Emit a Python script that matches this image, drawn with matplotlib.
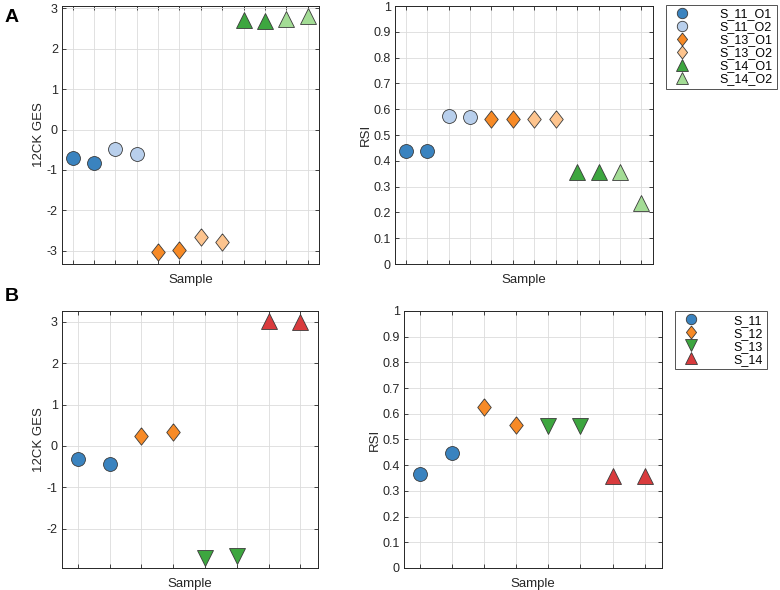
import matplotlib
matplotlib.use("Agg")
import matplotlib.pyplot as plt
from matplotlib.ticker import FuncFormatter, MultipleLocator

plt.rcParams['font.family'] = ['Liberation Sans', 'DejaVu Sans']
plt.rcParams['axes.unicode_minus'] = False

# panel A: organoid samples (two replicates each)
labels_a = ["S_11_O1", "S_11_O2", "S_13_O1", "S_13_O2", "S_14_O1", "S_14_O2"]
ges_a = [[-0.71, -0.82], [-0.47, -0.61], [-3.04, -2.98],
         [-2.67, -2.79], [2.72, 2.69], [2.75, 2.81]]
rsi_a = [[0.437, 0.437], [0.572, 0.570], [0.562, 0.562],
         [0.562, 0.562], [0.356, 0.356], [0.356, 0.237]]

# panel B: patient samples
labels_b = ["S_11", "S_12", "S_13", "S_14"]
ges_b = [[-0.32, -0.43], [0.24, 0.33], [-2.72, -2.65], [3.03, 3.00]]
rsi_b = [[0.366, 0.448], [0.625, 0.556], [0.553, 0.553], [0.356, 0.356]]

# MATLAB-like diamond (taller than wide)
diamond = [(0, 1), (0.78, 0), (0, -1), (-0.78, 0), (0, 1)]

colors_a = ["#3a83bf", "#b8cfec", "#f78a26", "#fdc48e", "#3da63f", "#a3dc95"]
markers_a = ["o", "o", diamond, diamond, "^", "^"]
colors_b = ["#3a83bf", "#f78a26", "#3da63f", "#d93b3d"]
markers_b = ["o", diamond, "v", "^"]

msize = {"o": 10, "^": 11, "v": 11}
TXT = "#262626"

fig = plt.figure(figsize=(7.8, 5.9), dpi=100)


def style_axes(ax, n, ylim, ystep):
    ax.set_xlim(0.5, n + 0.55)
    ax.set_ylim(*ylim)
    ax.set_xticks(range(1, n + 1))
    ax.set_xticklabels([])
    ax.yaxis.set_major_locator(MultipleLocator(ystep))
    ax.yaxis.set_major_formatter(FuncFormatter(lambda v, p: "%g" % round(v, 2)))
    ax.tick_params(direction="in", top=True, right=True, length=3,
                   width=0.6, labelsize=9, colors=TXT, pad=3)
    ax.grid(True, color="#dcdcdc", linewidth=0.6)
    ax.set_axisbelow(True)
    for s in ax.spines.values():
        s.set_color(TXT)
        s.set_linewidth(0.7)
    ax.set_xlabel("Sample", fontsize=9.5, color=TXT, labelpad=4)


def draw(ax, groups, colors, markers, names):
    x = 1
    handles = []
    for vals, c, m, nm in zip(groups, colors, markers, names):
        xs = list(range(x, x + len(vals)))
        ms = msize.get(m, 12.5) if isinstance(m, str) else 12.5
        h, = ax.plot(xs, vals, linestyle="none", marker=m, markersize=ms,
                     markerfacecolor=c, markeredgecolor="#3a3a3a",
                     markeredgewidth=0.6, label=nm, clip_on=False, zorder=3)
        handles.append(h)
        x += len(vals)
    return handles


def add_legend(handles, anchor, textpad):
    leg = fig.legend(handles=handles, loc="upper left", bbox_to_anchor=anchor,
                     fontsize=9, frameon=True, fancybox=False, borderpad=0.3,
                     handletextpad=textpad, labelspacing=0.08,
                     handlelength=2.0, markerscale=0.75, borderaxespad=0)
    leg.get_frame().set_edgecolor(TXT)
    leg.get_frame().set_linewidth(0.7)
    return leg


# A left
ax1 = fig.add_axes([0.0795, 0.5525, 0.330, 0.4373])
draw(ax1, ges_a, colors_a, markers_a, labels_a)
style_axes(ax1, 12, (-3.33, 3.06), 1)
ax1.set_ylabel("12CK GES", fontsize=9.5, color=TXT, labelpad=1)

# A right
ax2 = fig.add_axes([0.5064, 0.5525, 0.331, 0.4373])
h_a = draw(ax2, rsi_a, colors_a, markers_a, labels_a)
style_axes(ax2, 12, (0, 1), 0.1)
ax2.set_ylabel("RSI", fontsize=9.5, color=TXT, labelpad=1)

add_legend(h_a, (0.854, 0.992), 2.0)

# B left
ax3 = fig.add_axes([0.0795, 0.0373, 0.328, 0.4356])
draw(ax3, ges_b, colors_b, markers_b, labels_b)
style_axes(ax3, 8, (-2.95, 3.26), 1)
ax3.set_ylabel("12CK GES", fontsize=9.5, color=TXT, labelpad=1)

# B right
ax4 = fig.add_axes([0.518, 0.0373, 0.331, 0.4356])
h_b = draw(ax4, rsi_b, colors_b, markers_b, labels_b)
style_axes(ax4, 8, (0, 1), 0.1)
ax4.set_ylabel("RSI", fontsize=9.5, color=TXT, labelpad=1)

add_legend(h_b, (0.865, 0.473), 2.4)

fig.text(0.006, 0.985, "A", fontsize=14, fontweight="bold", va="top")
fig.text(0.006, 0.512, "B", fontsize=14, fontweight="bold", va="top")

fig.savefig("out.png", dpi=100, facecolor="white")
